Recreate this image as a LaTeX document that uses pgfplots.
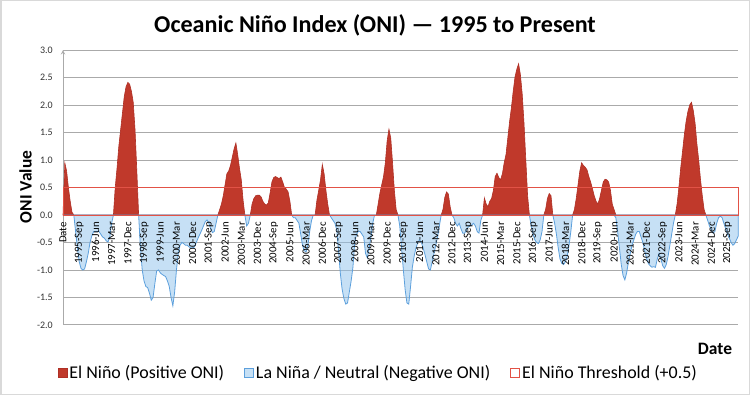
\documentclass[border=0pt]{standalone}
\usepackage{fontspec}
\setmainfont{Carlito}
\usepackage{pgfplots}
\pgfplotsset{compat=1.18}
\usepackage{pgfplotstable}
\definecolor{elred}{RGB}{192,57,43}
\definecolor{elredd}{RGB}{175,48,38}
\definecolor{lnblue}{RGB}{141,193,235}
\definecolor{lnblued}{RGB}{93,160,220}
\definecolor{thr}{RGB}{226,82,70}
\definecolor{gridc}{RGB}{170,170,170}
\definecolor{framec}{RGB}{217,217,217}
\pgfplotstableread{
i p n
0 0 0
1 0.95 0
2 0.8 0
3 0.5 0
4 0.25 0
5 0.05 0
6 0 0
7 0 -0.3
8 0 -0.6
9 0 -0.85
10 0 -0.97
11 0 -1.0
12 0 -0.98
13 0 -0.85
14 0 -0.7
15 0 -0.5
16 0 -0.38
17 0 -0.3
18 0 -0.3
19 0 -0.3
20 0 -0.3
21 0 -0.35
22 0 -0.4
23 0 -0.42
24 0 -0.47
25 0 -0.49
26 0 -0.4
27 0 -0.15
28 0 0
29 0.5 0
30 0.85 0
31 1.25 0
32 1.55 0
33 1.85 0
34 2.15 0
35 2.33 0
36 2.41 0
37 2.38 0
38 2.25 0
39 2.05 0
40 1.55 0
41 0.8 0
42 0 0
43 0 -0.6
44 0 -1.0
45 0 -1.2
46 0 -1.3
47 0 -1.32
48 0 -1.42
49 0 -1.55
50 0 -1.5
51 0 -1.25
52 0 -1.02
53 0 -1.0
54 0 -1.05
55 0 -1.08
56 0 -1.1
57 0 -1.12
58 0 -1.2
59 0 -1.3
60 0 -1.5
61 0 -1.65
62 0 -1.4
63 0 -1.0
64 0 -0.7
65 0 -0.55
66 0 -0.5
67 0 -0.52
68 0 -0.55
69 0 -0.55
70 0 -0.58
71 0 -0.6
72 0 -0.6
73 0 -0.58
74 0 -0.5
75 0 -0.42
76 0 -0.35
77 0 -0.28
78 0 -0.2
79 0 -0.12
80 0 -0.09
81 0 -0.15
82 0 -0.25
83 0 -0.32
84 0 -0.3
85 0 -0.15
86 0 0
87 0.1 0
88 0.2 0
89 0.35 0
90 0.55 0
91 0.75 0
92 0.8 0
93 0.9 0
94 1.05 0
95 1.2 0
96 1.31 0
97 1.1 0
98 0.85 0
99 0.64 0
100 0.27 0
101 0 0
102 0 -0.2
103 0 -0.15
104 0 0
105 0.2 0
106 0.3 0
107 0.35 0
108 0.36 0
109 0.36 0
110 0.33 0
111 0.25 0
112 0.2 0
113 0.18 0
114 0.22 0
115 0.4 0
116 0.6 0
117 0.68 0
118 0.7 0
119 0.68 0
120 0.66 0
121 0.69 0
122 0.6 0
123 0.5 0
124 0.47 0
125 0.42 0
126 0.25 0
127 0 0
128 0 -0.05
129 0 -0.05
130 0 -0.1
131 0 -0.15
132 0 -0.35
133 0 -0.55
134 0 -0.65
135 0 -0.67
136 0 -0.55
137 0 -0.3
138 0 -0.1
139 0 0
140 0 0
141 0.27 0
142 0.45 0
143 0.64 0
144 0.92 0
145 0.75 0
146 0.45 0
147 0.2 0
148 0 0
149 0 -0.05
150 0 -0.1
151 0 -0.15
152 0 -0.27
153 0 -0.65
154 0 -1.06
155 0 -1.35
156 0 -1.52
157 0 -1.62
158 0 -1.6
159 0 -1.4
160 0 -1.2
161 0 -0.95
162 0 -0.5
163 0 -0.35
164 0 -0.3
165 0 -0.3
166 0 -0.35
167 0 -0.4
168 0 -0.7
169 0 -0.78
170 0 -0.6
171 0 -0.4
172 0 -0.15
173 0 0
174 0 0
175 0.2 0
176 0.4 0
177 0.55 0
178 0.7 0
179 0.95 0
180 1.35 0
181 1.56 0
182 1.4 0
183 0.95 0
184 0.45 0
185 0.1 0
186 0 0
187 0 -0.2
188 0 -0.6
189 0 -1.0
190 0 -1.36
191 0 -1.6
192 0 -1.62
193 0 -1.3
194 0 -0.95
195 0 -0.75
196 0 -0.6
197 0 -0.5
198 0 -0.45
199 0 -0.5
200 0 -0.6
201 0 -0.72
202 0 -0.85
203 0 -0.98
204 0 -1.0
205 0 -0.85
206 0 -0.7
207 0 -0.55
208 0 -0.4
209 0 -0.2
210 0 0
211 0.1 0
212 0.32 0
213 0.42 0
214 0.38 0
215 0.15 0
216 0 0
217 0 -0.05
218 0 -0.15
219 0 -0.2
220 0 -0.15
221 0 -0.25
222 0 -0.33
223 0 -0.33
224 0 -0.28
225 0 -0.22
226 0 -0.2
227 0 -0.18
228 0 -0.15
229 0 -0.2
230 0 -0.3
231 0 -0.33
232 0 -0.1
233 0 0
234 0.31 0
235 0.2 0
236 0.15 0
237 0.25 0
238 0.3 0
239 0.45 0
240 0.7 0
241 0.76 0
242 0.68 0
243 0.64 0
244 0.75 0
245 0.95 0
246 1.1 0
247 1.4 0
248 1.7 0
249 1.95 0
250 2.25 0
251 2.51 0
252 2.65 0
253 2.75 0
254 2.55 0
255 2.2 0
256 1.67 0
257 1.0 0
258 0.35 0
259 0 0
260 0 -0.2
261 0 -0.35
262 0 -0.45
263 0 -0.5
264 0 -0.52
265 0 -0.45
266 0 -0.3
267 0 0
268 0.1 0
269 0.3 0
270 0.39 0
271 0.35 0
272 0 0
273 0 -0.15
274 0 -0.35
275 0 -0.6
276 0 -0.8
277 0 -0.88
278 0 -0.9
279 0 -0.85
280 0 -0.75
281 0 -0.55
282 0 -0.3
283 0 0
284 0.1 0
285 0.3 0
286 0.55 0
287 0.8 0
288 0.95 0
289 0.9 0
290 0.87 0
291 0.82 0
292 0.7 0
293 0.6 0
294 0.48 0
295 0.35 0
296 0.25 0
297 0.2 0
298 0.3 0
299 0.45 0
300 0.6 0
301 0.65 0
302 0.64 0
303 0.6 0
304 0.45 0
305 0.2 0
306 0.1 0
307 0 -0.05
308 0 -0.3
309 0 -0.6
310 0 -0.9
311 0 -1.1
312 0 -1.18
313 0 -1.05
314 0 -0.85
315 0 -0.7
316 0 -0.55
317 0 -0.45
318 0 -0.35
319 0 -0.3
320 0 -0.3
321 0 -0.4
322 0 -0.5
323 0 -0.65
324 0 -0.78
325 0 -0.88
326 0 -0.92
327 0 -0.95
328 0 -0.94
329 0 -0.95
330 0 -0.8
331 0 -0.7
332 0 -0.8
333 0 -0.92
334 0 -0.97
335 0 -0.9
336 0 -0.75
337 0 -0.55
338 0 -0.35
339 0 -0.15
340 0 0
341 0.2 0
342 0.5 0
343 0.85 0
344 1.15 0
345 1.45 0
346 1.7 0
347 1.88 0
348 2.0 0
349 2.05 0
350 1.9 0
351 1.67 0
352 1.3 0
353 1.0 0
354 0.65 0
355 0.35 0
356 0.1 0
357 0 0
358 0 -0.1
359 0 -0.2
360 0 -0.28
361 0 -0.33
362 0 -0.3
363 0 -0.15
364 0 -0.05
365 0 -0.02
366 0 -0.05
367 0 -0.15
368 0 -0.25
369 0 -0.35
370 0 -0.42
371 0 -0.5
372 0 -0.55
373 0 -0.52
374 0 -0.45
375 0 -0.38
}\oni
\pgfplotsset{
  common/.style={
    at={(63bp,70bp)}, anchor=south west,
    scale only axis, width=675.3bp, height=275bp,
    xmin=0, xmax=375, ymin=-2, ymax=3,
    major tick length=0pt,
    axis line style={-},
    hide obscured x ticks=false, hide obscured y ticks=false,
  }
}
\begin{document}
\begin{tikzpicture}
\path[use as bounding box] (0,0) rectangle (750bp,395bp);
\draw[framec, line width=1.5bp] (0.75bp,0.75bp) rectangle (749.25bp,394.25bp);
\begin{axis}[
  common,
  axis y line=left, axis x line=middle,
  y axis line style={gridc, line width=1bp},
  x axis line style={draw=none},
  ymajorgrids, grid style={gridc, line width=1bp},
  ytick={-2,-1.5,-1,-0.5,0,0.5,1,1.5,2,2.5,3},
  yticklabels={-2.0,-1.5,-1.0,-0.5,0.0,0.5,1.0,1.5,2.0,2.5,3.0},
  yticklabel style={font=\fontsize{10}{12}\selectfont, inner sep=0pt, text=black!80},
  yticklabel shift=10bp,
  xtick=\empty,
  legend style={at={(0.467,-0.1745)}, anchor=center, draw=none, fill=none,
    font=\fontsize{18}{21}\selectfont, legend columns=3,
    /tikz/every even column/.append style={column sep=18bp}},
  legend image code/.code={\draw[#1] (0bp,-4.5bp) rectangle (9bp,4.5bp);},
  clip=false,
]
\addplot[fill=elred, draw=elredd, line width=0.6bp] table[x=i,y=p] {\oni} \closedcycle;
\addlegendentry{El Niño (Positive ONI)}
\addplot[fill=lnblue, fill opacity=0.5, draw=lnblued, line width=0.8bp] table[x=i,y=n] {\oni} \closedcycle;
\addlegendentry{La Niña / Neutral (Negative ONI)}
\addplot[draw=thr, fill=none, line width=1bp] coordinates {(0,0.5) (375,0.5)} \closedcycle;
\addlegendentry{El Niño Threshold (+0.5)}
\end{axis}
\begin{axis}[
  common,
  axis y line=none, axis x line=middle,
  x axis line style={draw=none},
  ytick=\empty,
  xtick={0,9,...,369},
  xticklabels={Date,1995-Sep,1996-Jun,1997-Mar,1997-Dec,1998-Sep,1999-Jun,2000-Mar,2000-Dec,2001-Sep,2002-Jun,2003-Mar,2003-Dec,2004-Sep,2005-Jun,2006-Mar,2006-Dec,2007-Sep,2008-Jun,2009-Mar,2009-Dec,2010-Sep,2011-Jun,2012-Mar,2012-Dec,2013-Sep,2014-Jun,2015-Mar,2015-Dec,2016-Sep,2017-Jun,2018-Mar,2018-Dec,2019-Sep,2020-Jun,2021-Mar,2021-Dec,2022-Sep,2023-Jun,2024-Mar,2024-Dec,2025-Sep},
  xticklabel style={font=\fontsize{10.9}{13}\selectfont, rotate=90, anchor=east, inner sep=0pt},
  xticklabel shift=7bp,
]
\end{axis}
\node[font=\fontsize{24.2}{29}\selectfont\bfseries] at (375bp,370bp) {Oceanic Niño Index (ONI) — 1995 to Present};
\node[rotate=90, font=\fontsize{17.5}{21}\selectfont\bfseries] at (25.5bp,208bp) {ONI Value};
\node[font=\fontsize{17.5}{21}\selectfont\bfseries] at (715bp,46bp) {Date};
\end{tikzpicture}
\end{document}
